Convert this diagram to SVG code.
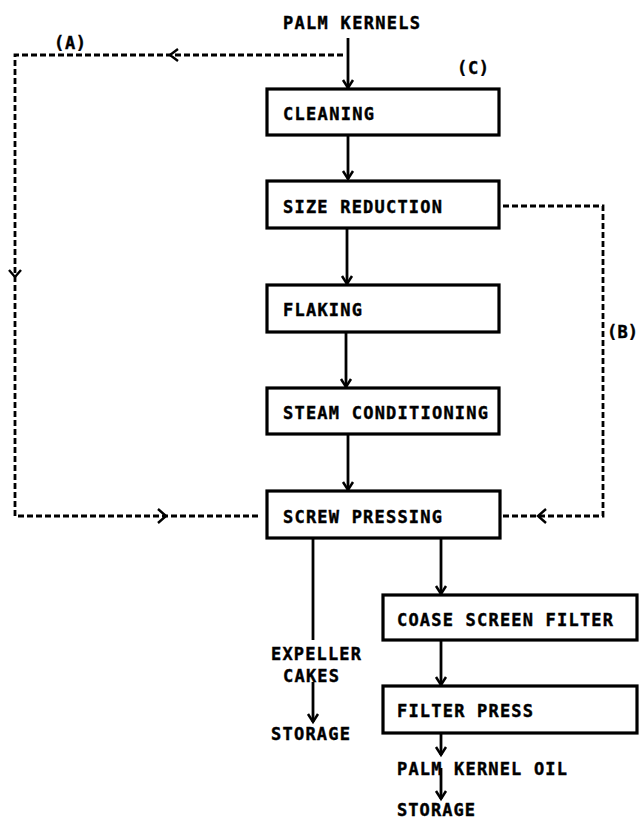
<svg xmlns="http://www.w3.org/2000/svg" width="639" height="821" viewBox="0 0 639 821">
<style>
  .box { fill: #fff; stroke: #000; stroke-width: 3.2; }
  .t { font-family: "DejaVu Sans Mono", "Liberation Mono", monospace; font-weight: bold; font-size: 17px; fill: #000; stroke: #000; stroke-width: 0.4; }
  .solid { fill: none; stroke: #000; stroke-width: 2.8; }
  .dash { fill: none; stroke: #000; stroke-width: 2.8; stroke-dasharray: 6 3; }
  .chev { fill: none; stroke: #000; stroke-width: 2.4; }
</style>
<defs>
  <marker id="ah" markerUnits="userSpaceOnUse" markerWidth="20" markerHeight="20" viewBox="-10 -10 20 20" refX="0" refY="0" orient="auto">
    <path d="M-8,-5 L0,0 L-8,5" fill="none" stroke="#000" stroke-width="2.5"/>
  </marker>
</defs>
<rect width="639" height="821" fill="#fff"/>

<g id="connectors">
  <path class="solid" d="M348,38 L348,88" marker-end="url(#ah)"/>
  <path class="solid" d="M348,135 L348,179" marker-end="url(#ah)"/>
  <path class="solid" d="M347,228 L347,284" marker-end="url(#ah)"/>
  <path class="solid" d="M346,332 L346,387" marker-end="url(#ah)"/>
  <path class="solid" d="M348,434 L348,490" marker-end="url(#ah)"/>
  <path class="solid" d="M441,538 L441,594" marker-end="url(#ah)"/>
  <path class="solid" d="M313,538 L313,640"/>
  <path class="solid" d="M313,682 L313,722" marker-end="url(#ah)"/>
  <path class="solid" d="M441,640 L441,685" marker-end="url(#ah)"/>
  <path class="solid" d="M441,733 L441,755" marker-end="url(#ah)"/>
  <path class="solid" d="M441,768 L441,799" marker-end="url(#ah)"/>
  <!-- loop A -->
  <path class="dash" d="M343,55 L15,55 L15,516 L258,516"/>
  <path class="chev" d="M178,49 L170,55 L178,61"/>
  <path class="chev" d="M9,270 L15,277 L21,270"/>
  <path class="chev" d="M158,509 L166,516 L158,523"/>
  <!-- loop B -->
  <path class="dash" d="M503,206 L603,206 L603,516 L503,516"/>
  <path class="chev" d="M546,509 L538,516 L546,523"/>
  <text class="t" x="54" y="49" textLength="32" lengthAdjust="spacing">(A)</text>
  <text class="t" x="607" y="338" textLength="31" lengthAdjust="spacing">(B)</text>
  <text class="t" x="457" y="74" textLength="32" lengthAdjust="spacing">(C)</text>
</g>

<g id="palm-kernels"><text class="t" x="283" y="29" textLength="137" lengthAdjust="spacing">PALM KERNELS</text></g>
<g id="cleaning"><rect class="box" x="267" y="89" width="232" height="46"/><text class="t" x="283" y="120" textLength="91" lengthAdjust="spacing">CLEANING</text></g>
<g id="size-reduction"><rect class="box" x="267" y="181" width="232" height="47"/><text class="t" x="283" y="213" textLength="159" lengthAdjust="spacing">SIZE REDUCTION</text></g>
<g id="flaking"><rect class="box" x="267" y="285" width="232" height="47"/><text class="t" x="283" y="316" textLength="79" lengthAdjust="spacing">FLAKING</text></g>
<g id="steam-conditioning"><rect class="box" x="267" y="388" width="232" height="46"/><text class="t" x="283" y="419" textLength="205" lengthAdjust="spacing">STEAM CONDITIONING</text></g>
<g id="screw-pressing"><rect class="box" x="267" y="491" width="233" height="47"/><text class="t" x="283" y="523" textLength="159" lengthAdjust="spacing">SCREW PRESSING</text></g>
<g id="coase-screen-filter"><rect class="box" x="383" y="595" width="254" height="45"/><text class="t" x="397" y="626" textLength="216" lengthAdjust="spacing">COASE SCREEN FILTER</text></g>
<g id="filter-press"><rect class="box" x="383" y="686" width="254" height="47"/><text class="t" x="397" y="717" textLength="136" lengthAdjust="spacing">FILTER PRESS</text></g>
<g id="expeller-cakes"><text class="t" x="271" y="660" textLength="90" lengthAdjust="spacing">EXPELLER</text><text class="t" x="283" y="682" textLength="56" lengthAdjust="spacing">CAKES</text></g>
<g id="storage-1"><text class="t" x="271" y="740" textLength="79" lengthAdjust="spacing">STORAGE</text></g>
<g id="palm-kernel-oil"><text class="t" x="397" y="775" textLength="170" lengthAdjust="spacing">PALM KERNEL OIL</text></g>
<g id="storage-2"><text class="t" x="397" y="816" textLength="78" lengthAdjust="spacing">STORAGE</text></g>
</svg>
